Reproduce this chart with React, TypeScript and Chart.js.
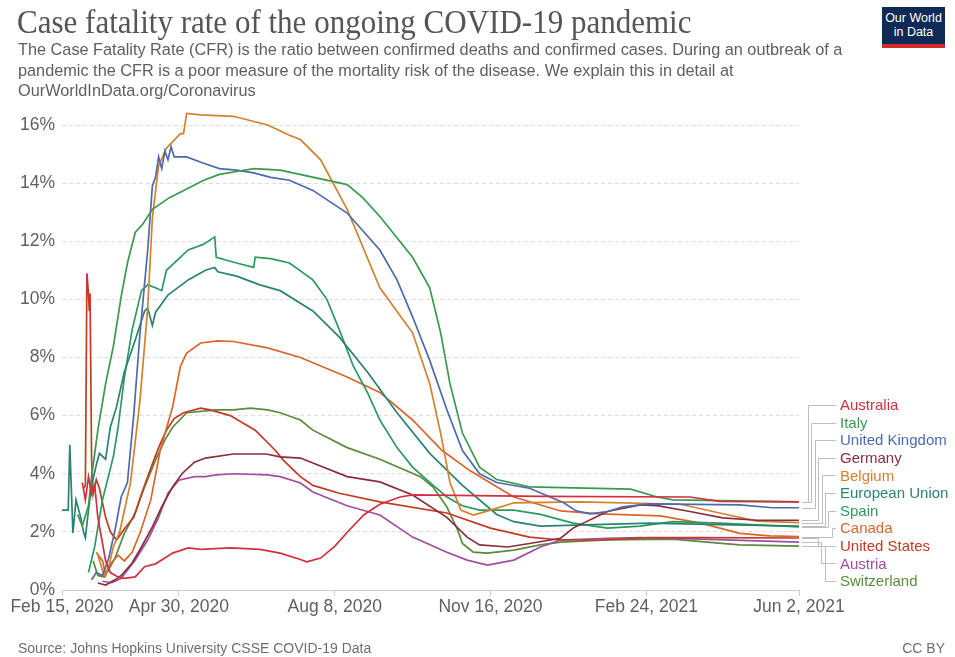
import React, { useEffect, useRef } from "react";
import { Chart, registerables } from "chart.js";

Chart.register(...registerables);

// ---- Data (x = days since Feb 15, 2020; y = case fatality rate in %) ----
const countries = [
  "Australia",
  "Italy",
  "United Kingdom",
  "Germany",
  "Belgium",
  "European Union",
  "Spain",
  "Canada",
  "United States",
  "Austria",
  "Switzerland",
];

const colors = [
  "#d3303f",
  "#3a9a4c",
  "#4c6ab0",
  "#8a2e3d",
  "#d4802d",
  "#2b8273",
  "#2c9a5e",
  "#d9662b",
  "#c23b22",
  "#a14ea2",
  "#5a8a3c",
];

const tickDays = [0, 75, 175, 275, 375, 473];
const tickLabels = [
  "Feb 15, 2020",
  "Apr 30, 2020",
  "Aug 8, 2020",
  "Nov 16, 2020",
  "Feb 24, 2021",
  "Jun 2, 2021",
];

const australia: [number, number][] = [
  [13, 3.7], [15, 3.1], [17, 3.9], [19, 3.3], [21, 3.6], [23, 2.5], [26, 1.6], [28, 1.0],
  [31, 0.6], [36, 0.45], [40, 0.4], [47, 0.45], [53, 0.8], [60, 0.9], [66, 1.1], [71, 1.27],
  [81, 1.45], [89, 1.4], [108, 1.45], [127, 1.4], [140, 1.27], [153, 1.05], [157, 0.97],
  [166, 1.1], [175, 1.5], [185, 2.1], [194, 2.6], [204, 2.95], [217, 3.2], [225, 3.27],
  [307, 3.22], [403, 3.2], [422, 3.05], [473, 3.03],
];

const italy: [number, number][] = [
  [10, 2.6], [13, 2.2], [17, 2.9], [19, 3.9], [23, 5.5], [28, 7.1], [33, 8.4], [38, 10.1],
  [42, 11.25], [47, 12.3], [52, 12.6], [58, 13.1], [69, 13.5], [80, 13.8], [91, 14.1],
  [101, 14.3], [112, 14.4], [123, 14.5], [140, 14.45], [183, 13.95], [193, 13.5],
  [204, 12.85], [225, 11.45], [236, 10.4], [243, 8.85], [249, 7.1], [257, 5.4], [268, 4.23],
  [279, 3.8], [300, 3.55], [365, 3.47], [382, 3.2], [392, 3.1], [473, 3.03],
];

const unitedKingdom: [number, number][] = [
  [19, 0.35], [22, 0.6], [26, 0.5], [30, 1.1], [34, 2.06], [38, 3.2], [42, 3.7], [46, 6.0],
  [50, 8.8], [55, 11.7], [58, 13.9], [60, 14.2], [62, 14.9], [64, 14.5], [66, 15.1],
  [68, 14.8], [70, 15.25], [72, 14.9], [80, 14.9], [90, 14.7], [101, 14.5], [112, 14.45],
  [123, 14.35], [134, 14.2], [146, 14.1], [161, 13.75], [183, 12.97], [204, 11.7],
  [215, 10.67], [225, 9.4], [236, 7.9], [247, 6.2], [257, 4.8], [268, 4.0], [279, 3.7],
  [300, 3.5], [322, 3.0], [330, 2.72], [339, 2.62], [350, 2.7], [360, 2.86], [377, 2.96],
  [435, 2.93], [456, 2.83], [473, 2.83],
];

const germany: [number, number][] = [
  [23, 0.24], [28, 0.17], [34, 0.35], [38, 0.5], [45, 0.93], [51, 1.48], [58, 2.17],
  [64, 2.86], [71, 3.55], [77, 4.0], [85, 4.4], [92, 4.54], [110, 4.68], [131, 4.68],
  [140, 4.58], [153, 4.54], [161, 4.37], [183, 3.9], [204, 3.72], [225, 3.27], [247, 2.5],
  [260, 1.82], [268, 1.55], [286, 1.48], [300, 1.6], [320, 1.78], [328, 2.13], [350, 2.7],
  [371, 2.93], [382, 2.9], [403, 2.7], [424, 2.48], [446, 2.4], [473, 2.4],
];

const belgium: [number, number][] = [
  [23, 1.2], [27, 0.5], [30, 0.8], [33, 1.5], [37, 2.0], [44, 3.7], [50, 6.5], [55, 9.7],
  [58, 12.8], [62, 14.6], [67, 15.2], [76, 15.7], [78, 15.7], [80, 16.4], [89, 16.35],
  [110, 16.3], [132, 16.0], [146, 15.65], [153, 15.5], [166, 14.8], [183, 13.1],
  [204, 10.4], [225, 8.85], [236, 7.1], [243, 5.4], [249, 3.7], [256, 2.75], [264, 2.58],
  [275, 2.75], [290, 3.0], [333, 3.03], [397, 2.95], [422, 2.65], [446, 2.37], [473, 2.32],
];

const europeanUnion: [number, number][] = [
  [0, 2.75], [4, 2.75], [5, 5.0], [7, 1.96], [9, 3.1], [12, 2.5], [14, 1.95], [15, 1.8],
  [17, 2.75], [19, 3.6], [22, 4.3], [24, 4.7], [28, 4.5], [31, 5.6], [35, 6.3], [40, 7.5],
  [47, 8.6], [53, 9.6], [55, 9.7], [58, 9.1], [60, 9.55], [68, 10.15], [81, 10.67],
  [92, 11.0], [98, 11.1], [100, 10.95], [112, 10.8], [127, 10.5], [140, 10.3], [161, 9.6],
  [178, 8.7], [196, 7.5], [215, 6.1], [236, 4.7], [257, 3.6], [279, 2.6], [290, 2.35],
  [307, 2.2], [377, 2.3], [422, 2.25], [473, 2.2],
];

const spain: [number, number][] = [
  [17, 0.6], [21, 1.5], [26, 3.1], [33, 4.6], [36, 5.6], [40, 7.3], [45, 8.95], [51, 10.3],
  [55, 10.5], [60, 10.4], [64, 10.3], [67, 11.0], [74, 11.35], [81, 11.7], [91, 11.9],
  [98, 12.15], [99, 11.45], [112, 11.25], [123, 11.1], [124, 11.45], [134, 11.4],
  [146, 11.25], [161, 10.67], [170, 10.0], [178, 8.95], [187, 7.7], [196, 6.8], [204, 5.85],
  [215, 4.9], [225, 4.23], [236, 3.7], [247, 3.2], [257, 2.9], [268, 2.75], [290, 2.75],
  [307, 2.6], [328, 2.3], [350, 2.13], [371, 2.2], [392, 2.35], [422, 2.3], [473, 2.17],
];

const canada: [number, number][] = [
  [22, 1.3], [26, 1.0], [28, 0.5], [31, 0.9], [36, 1.2], [40, 1.0], [45, 1.3], [50, 1.95],
  [57, 3.1], [63, 4.8], [71, 6.3], [76, 7.7], [80, 8.15], [89, 8.5], [100, 8.57],
  [110, 8.55], [132, 8.33], [153, 8.0], [183, 7.33], [204, 6.8], [225, 5.85], [244, 4.8],
  [262, 4.1], [275, 3.68], [290, 3.2], [320, 2.72], [345, 2.62], [384, 2.55], [410, 2.3],
  [435, 1.95], [454, 1.86], [473, 1.84],
];

const unitedStates: [number, number][] = [
  [14, 3.5], [15, 3.6], [16, 10.9], [17, 10.2], [17.5, 9.6], [18, 10.2], [19, 4.5],
  [20, 3.3], [22, 3.8], [24, 3.5], [28, 2.5], [31, 2.0], [35, 1.72], [40, 2.1], [46, 2.5],
  [51, 3.3], [57, 4.2], [62, 4.9], [67, 5.5], [72, 5.9], [78, 6.1], [89, 6.26], [95, 6.2],
  [108, 6.0], [124, 5.5], [137, 4.8], [142, 4.47], [153, 3.9], [161, 3.6], [178, 3.33],
  [204, 3.03], [247, 2.65], [275, 2.13], [300, 1.82], [320, 1.72], [345, 1.72], [377, 1.8],
  [410, 1.8], [473, 1.79],
];

const austria: [number, number][] = [
  [26, 0.3], [32, 0.25], [38, 0.4], [47, 1.03], [55, 1.72], [62, 2.5], [68, 3.33],
  [75, 3.78], [85, 3.9], [92, 3.9], [99, 3.96], [110, 4.0], [132, 3.96], [140, 3.9],
  [153, 3.68], [161, 3.37], [183, 2.9], [204, 2.58], [225, 1.82], [247, 1.3], [260, 1.03],
  [273, 0.86], [290, 1.03], [307, 1.48], [320, 1.72], [350, 1.78], [371, 1.8], [410, 1.75],
  [473, 1.65],
];

const switzerland: [number, number][] = [
  [20, 1.0], [23, 0.5], [27, 0.45], [30, 0.7], [34, 1.1], [40, 1.95], [47, 2.65],
  [53, 3.55], [60, 4.47], [66, 5.16], [71, 5.6], [80, 6.1], [99, 6.2], [110, 6.2],
  [121, 6.26], [132, 6.2], [140, 6.1], [153, 5.85], [161, 5.5], [183, 4.9], [204, 4.5],
  [217, 4.2], [230, 3.9], [238, 3.55], [247, 2.86], [254, 2.06], [257, 1.6], [264, 1.3],
  [273, 1.27], [290, 1.37], [307, 1.55], [320, 1.65], [350, 1.72], [392, 1.75], [414, 1.65],
  [435, 1.55], [473, 1.51],
];

const seriesList = [
  australia,
  italy,
  unitedKingdom,
  germany,
  belgium,
  europeanUnion,
  spain,
  canada,
  unitedStates,
  austria,
  switzerland,
];

const FONT = "'Liberation Sans', Arial, Helvetica, sans-serif";

// Line labels with elbow connectors, placed at the right of the chart
const lineLabelsPlugin = {
  id: "lineLabels",
  afterDatasetsDraw(chart: any) {
    const { ctx, scales } = chart;
    const xs = scales.x;
    const ys = scales.y;
    const labelX = 840;
    const labelTop = 405;
    const labelStep = 17.6;
    const ends = chart.data.datasets.map((ds: any) => {
      const last = ds.data[ds.data.length - 1];
      return { x: xs.getPixelForValue(last.x), y: ys.getPixelForValue(last.y) };
    });
    let aboveRank = 0;
    const belowIdx: number[] = [];
    const drawConnector = (i: number, ex: number) => {
      const ly = labelTop + i * labelStep;
      ctx.beginPath();
      ctx.moveTo(ends[i].x + 3, Math.round(ends[i].y) + 0.5);
      ctx.lineTo(Math.round(ex) + 0.5, Math.round(ends[i].y) + 0.5);
      ctx.lineTo(Math.round(ex) + 0.5, Math.round(ly) + 0.5);
      ctx.lineTo(labelX - 4, Math.round(ly) + 0.5);
      ctx.stroke();
    };
    ctx.save();
    ctx.strokeStyle = "#bdbdbd";
    ctx.lineWidth = 1;
    chart.data.datasets.forEach((_ds: any, i: number) => {
      const ly = labelTop + i * labelStep;
      if (ly <= ends[i].y) {
        drawConnector(i, 808 + aboveRank * 3.4);
        aboveRank++;
      } else {
        belowIdx.push(i);
      }
    });
    belowIdx.forEach((i, k) => drawConnector(i, 818 + k * 3.4));
    ctx.font = `15px ${FONT}`;
    ctx.textBaseline = "middle";
    ctx.textAlign = "left";
    chart.data.datasets.forEach((ds: any, i: number) => {
      ctx.fillStyle = ds.borderColor;
      ctx.fillText(ds.label, labelX, labelTop + i * labelStep + 1);
    });
    ctx.restore();
  },
};

export default function App() {
  const canvasRef = useRef<HTMLCanvasElement | null>(null);

  useEffect(() => {
    if (!canvasRef.current) return;
    const datasets = seriesList.map((s, i) => ({
      label: countries[i],
      data: s.map(([d, v]) => ({ x: d, y: v })),
      borderColor: colors[i],
      backgroundColor: colors[i],
      borderWidth: 1.7,
      pointRadius: 0,
      pointHoverRadius: 0,
      tension: 0,
      fill: false,
      clip: false as const,
    }));
    const chart = new Chart(canvasRef.current, {
      type: "line",
      data: { datasets },
      options: {
        animation: false,
        responsive: false,
        devicePixelRatio: 1,
        layout: { padding: { top: 125, right: 156, bottom: 0, left: 0 } },
        plugins: {
          legend: { display: false },
          tooltip: { enabled: false },
        },
        scales: {
          x: {
            type: "linear",
            min: 0,
            max: 473,
            afterFit: (scale: any) => {
              scale.height = 67;
            },
            afterBuildTicks: (scale: any) => {
              scale.ticks = tickDays.map((v) => ({ value: v }));
            },
            ticks: {
              autoSkip: false,
              maxRotation: 0,
              minRotation: 0,
              padding: 1,
              color: "#5f5f5f",
              font: { family: FONT, size: 17.5 },
              callback: (value: any) => {
                const idx = tickDays.indexOf(Number(value));
                return idx >= 0 ? tickLabels[idx] : "";
              },
            },
            grid: {
              display: true,
              drawOnChartArea: false,
              drawTicks: true,
              tickLength: 6,
              color: "#cccccc",
            },
            border: { display: true, color: "#cccccc", width: 1 },
          },
          y: {
            type: "linear",
            min: 0,
            max: 16,
            afterFit: (scale: any) => {
              scale.width = 62;
            },
            ticks: {
              stepSize: 2,
              padding: 7,
              color: "#5f5f5f",
              font: { family: FONT, size: 17.5 },
              callback: (value: any) => `${value}%`,
            },
            grid: {
              drawTicks: false,
              color: "#dcdcdc",
              lineWidth: 1,
            },
            border: { display: false, dash: [4, 3] },
          },
        },
      },
      plugins: [lineLabelsPlugin],
    });
    return () => chart.destroy();
  }, []);

  return (
    <div
      style={{
        position: "absolute",
        left: 0,
        top: 0,
        width: 955,
        height: 657,
        background: "#ffffff",
        overflow: "hidden",
      }}
    >
      <canvas
        ref={canvasRef}
        width={955}
        height={657}
        style={{ position: "absolute", left: 0, top: 0, width: 955, height: 657 }}
      />
      <div
        style={{
          position: "absolute",
          left: 17,
          top: 4,
          fontFamily: "'Liberation Serif', 'DejaVu Serif', serif",
          fontSize: 33,
          lineHeight: "36px",
          color: "#555555",
          whiteSpace: "nowrap",
          transform: "scaleX(0.94)",
          transformOrigin: "left top",
        }}
      >
        Case fatality rate of the ongoing COVID-19 pandemic
      </div>
      <div
        style={{
          position: "absolute",
          left: 18,
          top: 39,
          fontFamily: FONT,
          fontSize: 16.3,
          lineHeight: "20.5px",
          color: "#5e5e5e",
          whiteSpace: "nowrap",
        }}
      >
        The Case Fatality Rate (CFR) is the ratio between confirmed deaths and confirmed cases. During an outbreak of a
        <br />
        pandemic the CFR is a poor measure of the mortality risk of the disease. We explain this in detail at
        <br />
        OurWorldInData.org/Coronavirus
      </div>
      <div
        style={{
          position: "absolute",
          left: 882,
          top: 7,
          width: 63,
          height: 41,
          background: "#0f2a55",
          color: "#ffffff",
          fontFamily: FONT,
          fontSize: 12.5,
          lineHeight: "14px",
          textAlign: "center",
          boxSizing: "border-box",
          paddingTop: 4,
          borderBottom: "4px solid #d42b2b",
        }}
      >
        Our World
        <br />
        in Data
      </div>
      <div
        style={{
          position: "absolute",
          left: 18,
          top: 640,
          fontFamily: FONT,
          fontSize: 14,
          lineHeight: "16px",
          color: "#6e6e6e",
          whiteSpace: "nowrap",
        }}
      >
        Source: Johns Hopkins University CSSE COVID-19 Data
      </div>
      <div
        style={{
          position: "absolute",
          right: 10,
          top: 640,
          fontFamily: FONT,
          fontSize: 14,
          lineHeight: "16px",
          color: "#6e6e6e",
          whiteSpace: "nowrap",
        }}
      >
        CC BY
      </div>
    </div>
  );
}
